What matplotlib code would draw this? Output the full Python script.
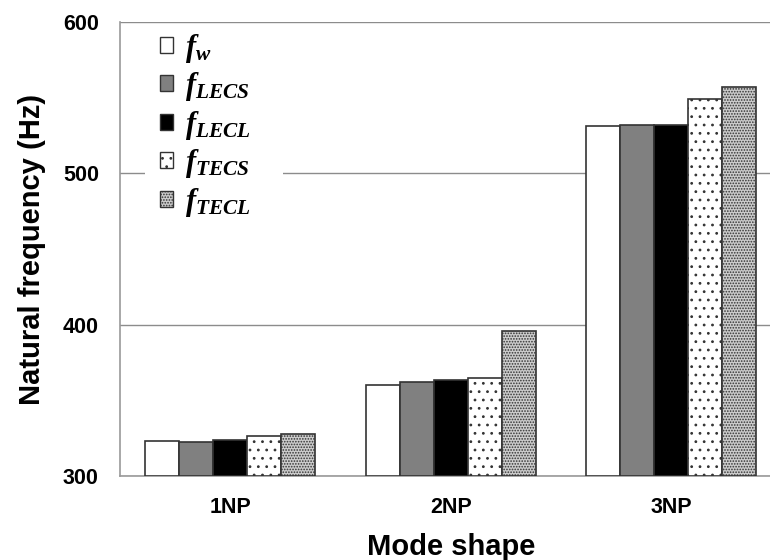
import numpy as np
import matplotlib
matplotlib.use("Agg")
import matplotlib.pyplot as plt
from matplotlib.patches import Patch, Rectangle

plt.rcParams["font.family"] = "Liberation Sans"
plt.rcParams["mathtext.fontset"] = "custom"
plt.rcParams["mathtext.it"] = "Liberation Serif:italic:bold"
plt.rcParams["mathtext.rm"] = "Liberation Serif:bold"
plt.rcParams["hatch.linewidth"] = 0.8

modes = ["1NP", "2NP", "3NP"]
f_w = [323, 360, 531]
f_lecs = [322.5, 362, 532]
f_lecl = [323.5, 363.5, 532]
f_tecs = [326.5, 365, 549]
f_tecl = [328, 395.5, 557]

series = [f_w, f_lecs, f_lecl, f_tecs, f_tecl]
labels = [r"$f_w$", r"$f_{LECS}$", r"$f_{LECL}$", r"$f_{TECS}$", r"$f_{TECL}$"]
faces = ["white", "#808080", "black", "white", "#cccccc"]
hatches = [None, None, None, "..", "......"]

fig = plt.figure(figsize=(7.7, 5.6), dpi=100)
ax = fig.add_axes([119.7 / 770, 84 / 560, 662 / 770, 454 / 560])

x = np.arange(len(modes))
w = 0.154
handles = []
for i, vals in enumerate(series):
    ax.bar(x + (i - 2) * w, np.array(vals) - 300, w, bottom=300,
           color=faces[i], edgecolor="#333333", linewidth=1.2,
           hatch=hatches[i], zorder=3)
    handles.append(Patch(facecolor=faces[i], edgecolor="#333333",
                         linewidth=1.0, hatch=hatches[i], label=labels[i]))

ax.set_xlim(-0.5, 2.5)
ax.set_ylim(300, 600)
ax.set_yticks([300, 400, 500, 600])
ax.set_xticks(x)
ax.set_xticklabels(modes)
ax.yaxis.grid(True, color="#8c8c8c", linewidth=1.0, zorder=0)
ax.set_axisbelow(True)
ax.tick_params(length=0, labelsize=15.5, pad=15)
for lab in ax.get_xticklabels() + ax.get_yticklabels():
    lab.set_fontweight("bold")

for s in ["top", "right"]:
    ax.spines[s].set_visible(False)
for s in ["left", "bottom"]:
    ax.spines[s].set_color("#999999")
    ax.spines[s].set_linewidth(1.2)

ax.set_ylabel("Natural frequency (Hz)", fontsize=21, fontweight="bold", labelpad=12)
ax.set_xlabel("Mode shape", fontsize=21, fontweight="bold", labelpad=11)

# white box behind the legend that breaks the 500 gridline
ax.add_patch(Rectangle((0.038, 0.575), 0.2085, 0.41, transform=ax.transAxes,
                       facecolor="white", edgecolor="none", zorder=2))

leg = ax.legend(handles=handles, loc="upper left", bbox_to_anchor=(0.015, 1.046),
                fontsize=22, frameon=False, handlelength=0.42,
                handleheight=0.42, handletextpad=0.38, labelspacing=0.18,
                borderpad=0.5)
leg.set_zorder(5)

fig.savefig("out.png", dpi=100)
